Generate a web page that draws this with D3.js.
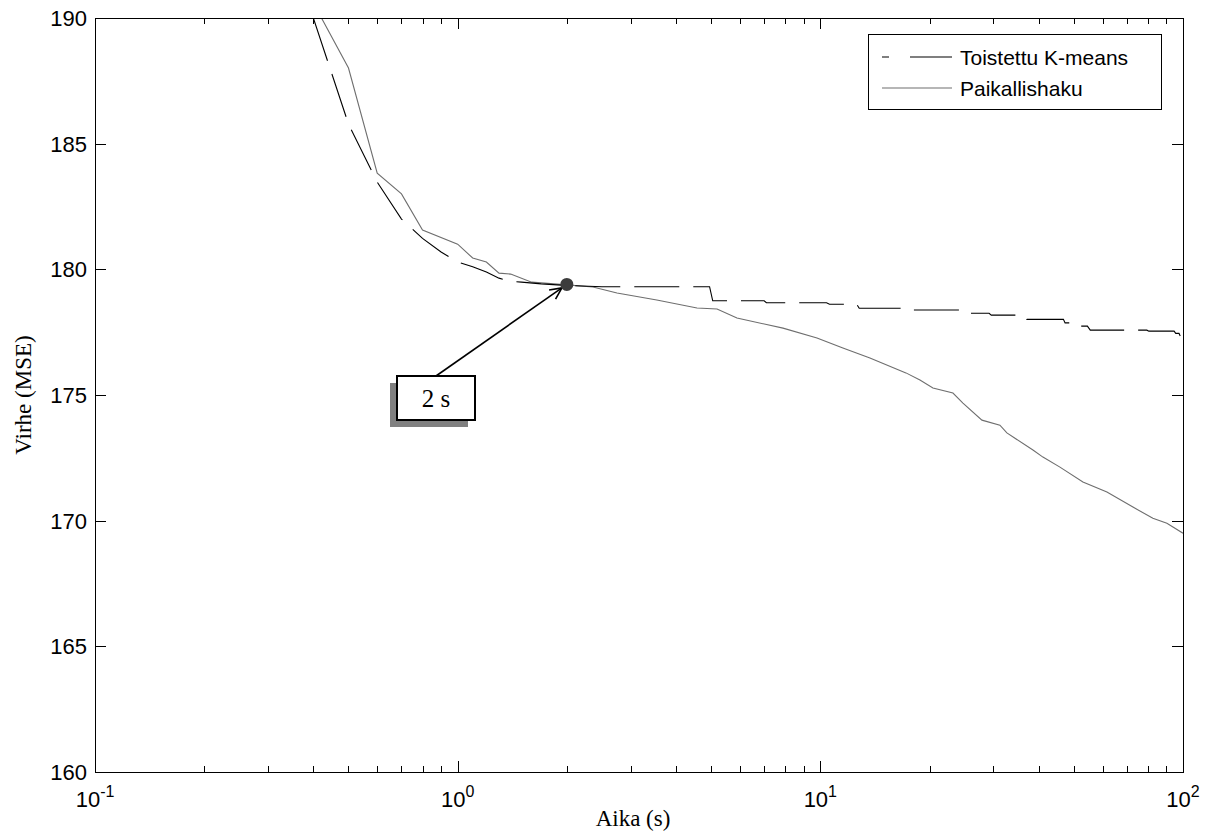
<!DOCTYPE html>
<html>
<head>
<meta charset="utf-8">
<script src="https://cdn.jsdelivr.net/npm/d3@7"></script>
<style>
  body { margin: 0; background: #fff; }
  svg { display: block; }
</style>
</head>
<body>
<svg id="chart" width="1209" height="834"></svg>
<script>
// Repeated K-means: best MSE found so far vs. elapsed time (s)
const kmeansTime = [0.4, 0.5, 0.6, 0.7, 0.8, 0.9, 1.0, 1.1, 1.2, 1.3, 1.4, 1.5, 1.7, 2.0, 2.5,
  4.95, 5.05, 7.0, 7.1, 10.4, 10.6, 12.6, 12.8, 17.3, 17.5, 25.1, 25.4, 29.2, 29.6, 36.7, 37.1,
  46.8, 47.3, 49.2, 49.7, 54.5, 55.5, 79.5, 80.5, 94.5, 95.5, 97.5, 98.5, 100];
const kmeansMSE = [190.0, 185.78, 183.47, 182.0, 181.23, 180.69, 180.29, 180.1, 179.89, 179.65, 179.52, 179.49, 179.42, 179.36, 179.31,
  179.31, 178.75, 178.75, 178.67, 178.67, 178.61, 178.61, 178.45, 178.45, 178.38, 178.38, 178.25, 178.25, 178.18, 178.18, 178.01,
  178.01, 177.87, 177.87, 177.74, 177.74, 177.58, 177.58, 177.54, 177.54, 177.45, 177.45, 177.32, 177.32];

// Local search: best MSE found so far vs. elapsed time (s)
const localTime = [0.4, 0.5, 0.6, 0.7, 0.8, 1.0, 1.1, 1.2, 1.3, 1.4, 1.6, 2.0, 2.36, 2.75, 3.54,
  4.57, 5.19, 5.89, 7.89, 9.79, 11.54, 13.7, 17.22, 18.82, 20.44, 23.21, 24.73, 27.9, 31.27, 32.69,
  38.57, 41.09, 45.78, 52.97, 61.69, 72.77, 82.6, 90.28, 100];
const localMSE = [190.6, 188.01, 183.83, 183.0, 181.56, 181.0, 180.45, 180.29, 179.85, 179.81, 179.49, 179.38, 179.3, 179.06, 178.78,
  178.46, 178.42, 178.06, 177.66, 177.27, 176.87, 176.47, 175.88, 175.6, 175.28, 175.08, 174.68, 174.0, 173.8, 173.49,
  172.81, 172.53, 172.13, 171.54, 171.14, 170.54, 170.1, 169.9, 169.5];

const seriesNames = ["Toistettu K-means", "Paikallishaku"];

// Axes
const xDecades = [0.1, 1, 10, 100];
const xExponents = ["-1", "0", "1", "2"];
const yTicks = [160, 165, 170, 175, 180, 185, 190];
const xLabel = "Aika (s)";
const yLabel = "Virhe (MSE)";

// Highlighted point
const markTime = 2;
const markMSE = 179.4;
const markLabel = "2 s";

const svg = d3.select("#chart");
const W = 1209, H = 834;
const plot = { left: 95, right: 1183, top: 18, bottom: 772 };

const x = d3.scaleLog().domain([0.1, 100]).range([plot.left, plot.right]);
const y = d3.scaleLinear().domain([160, 190]).range([plot.bottom, plot.top]);

const sans = "Arial, 'Liberation Sans', Helvetica, sans-serif";
const serif = "'Times New Roman', 'Liberation Serif', Times, serif";

svg.append("rect").attr("width", W).attr("height", H).attr("fill", "#fff");

svg.append("defs").append("clipPath").attr("id", "plotClip")
  .append("rect")
  .attr("x", plot.left).attr("y", plot.top)
  .attr("width", plot.right - plot.left).attr("height", plot.bottom - plot.top);

// Ticks (inward, mirrored on all four sides)
const tickG = svg.append("g").attr("stroke", "#000").attr("stroke-width", 1).attr("shape-rendering", "crispEdges");
const majorLen = 11, minorLen = 6;
const minorTicks = [];
xDecades.slice(0, -1).forEach(d => { for (let k = 2; k <= 9; k++) minorTicks.push(d * k); });

xDecades.forEach(v => {
  const px = Math.round(x(v)) + 0.5;
  tickG.append("line").attr("x1", px).attr("x2", px).attr("y1", plot.bottom).attr("y2", plot.bottom - majorLen);
  tickG.append("line").attr("x1", px).attr("x2", px).attr("y1", plot.top).attr("y2", plot.top + majorLen);
});
minorTicks.forEach(v => {
  const px = Math.round(x(v)) + 0.5;
  tickG.append("line").attr("x1", px).attr("x2", px).attr("y1", plot.bottom).attr("y2", plot.bottom - minorLen);
  tickG.append("line").attr("x1", px).attr("x2", px).attr("y1", plot.top).attr("y2", plot.top + minorLen);
});
yTicks.forEach(v => {
  const py = Math.round(y(v)) + 0.5;
  tickG.append("line").attr("x1", plot.left).attr("x2", plot.left + majorLen).attr("y1", py).attr("y2", py);
  tickG.append("line").attr("x1", plot.right).attr("x2", plot.right - majorLen).attr("y1", py).attr("y2", py);
});

// Tick labels
svg.append("g").selectAll("text").data(yTicks).join("text")
  .attr("x", plot.left - 8).attr("y", d => y(d))
  .attr("dy", "0.36em")
  .attr("text-anchor", "end")
  .attr("font-family", sans).attr("font-size", 22)
  .text(d => d);

const xl = svg.append("g").selectAll("text").data(xDecades).join("text")
  .attr("x", d => x(d)).attr("y", plot.bottom + 35)
  .attr("text-anchor", "middle")
  .attr("font-family", sans).attr("font-size", 22);
xl.append("tspan").text("10");
xl.append("tspan").attr("dy", -10).attr("font-size", 16).text((d, i) => xExponents[i]);

// Axis titles
svg.append("text")
  .attr("x", (plot.left + plot.right) / 2 - 6).attr("y", plot.bottom + 54)
  .attr("text-anchor", "middle")
  .attr("font-family", serif).attr("font-size", 23)
  .text(xLabel);
svg.append("text")
  .attr("transform", `translate(31,${(plot.top + plot.bottom) / 2}) rotate(-90)`)
  .attr("text-anchor", "middle")
  .attr("font-family", serif).attr("font-size", 23)
  .text(yLabel);

// Series lines
const lineGen = d3.line().x(d => x(d[0])).y(d => y(d[1]));
const lines = svg.append("g").attr("clip-path", "url(#plotClip)").attr("fill", "none");

lines.append("path")
  .datum(localTime.map((t, i) => [t, localMSE[i]]))
  .attr("stroke", "#6e6e6e").attr("stroke-width", 1.1)
  .attr("d", lineGen);

lines.append("path")
  .datum(kmeansTime.map((t, i) => [t, kmeansMSE[i]]))
  .attr("stroke", "#000").attr("stroke-width", 1.1)
  .attr("stroke-dasharray", "45,14")
  .attr("d", lineGen);

// Axes box
svg.append("rect")
  .attr("x", plot.left + 0.5).attr("y", plot.top + 0.5)
  .attr("width", plot.right - plot.left).attr("height", plot.bottom - plot.top)
  .attr("fill", "none").attr("stroke", "#000").attr("stroke-width", 1.2)
  .attr("shape-rendering", "crispEdges");

// Annotation: text box with drop shadow and arrow pointing to the marked point
const mx = x(markTime), my = y(markMSE);
const box = { x: 397, y: 376, w: 78, h: 44 };
svg.append("rect")
  .attr("x", box.x - 7).attr("y", box.y + 7).attr("width", box.w).attr("height", box.h)
  .attr("fill", "#808080");
svg.append("rect")
  .attr("x", box.x).attr("y", box.y).attr("width", box.w).attr("height", box.h)
  .attr("fill", "#fff").attr("stroke", "#000").attr("stroke-width", 1.2)
  .attr("shape-rendering", "crispEdges");
svg.append("text")
  .attr("x", box.x + box.w / 2).attr("y", box.y + 31)
  .attr("text-anchor", "middle")
  .attr("font-family", serif).attr("font-size", 25)
  .text(markLabel);

const ax0 = box.x + box.w / 2, ay0 = box.y;
const ang = Math.atan2(my - ay0, mx - ax0);
const tipX = mx - Math.cos(ang) * 6, tipY = my - Math.sin(ang) * 6;
svg.append("line")
  .attr("x1", ax0).attr("y1", ay0).attr("x2", tipX).attr("y2", tipY)
  .attr("stroke", "#000").attr("stroke-width", 1.6);
const headLen = 13, headAng = Math.PI / 7;
const head = [
  [tipX - headLen * Math.cos(ang - headAng), tipY - headLen * Math.sin(ang - headAng)],
  [tipX, tipY],
  [tipX - headLen * Math.cos(ang + headAng), tipY - headLen * Math.sin(ang + headAng)]
];
svg.append("path")
  .attr("d", d3.line()(head))
  .attr("fill", "none").attr("stroke", "#000").attr("stroke-width", 1.6);

svg.append("circle")
  .attr("cx", mx).attr("cy", my).attr("r", 6.5)
  .attr("fill", "#3c3c3c");

// Legend
const leg = { x: 868, y: 34, w: 293, h: 75 };
svg.append("rect")
  .attr("x", leg.x + 0.5).attr("y", leg.y + 0.5).attr("width", leg.w).attr("height", leg.h)
  .attr("fill", "#fff").attr("stroke", "#000").attr("stroke-width", 1.2)
  .attr("shape-rendering", "crispEdges");
const legRows = [
  { name: seriesNames[0], color: "#000", dash: "7,21,42,0", y: 57 },
  { name: seriesNames[1], color: "#6e6e6e", dash: null, y: 88 }
];
legRows.forEach(r => {
  svg.append("line")
    .attr("x1", 882).attr("x2", 952).attr("y1", r.y).attr("y2", r.y)
    .attr("stroke", r.color).attr("stroke-width", 1.1)
    .attr("stroke-dasharray", r.dash);
  svg.append("text")
    .attr("x", 960).attr("y", r.y).attr("dy", "0.36em")
    .attr("font-family", sans).attr("font-size", 21)
    .text(r.name);
});
</script>
</body>
</html>
